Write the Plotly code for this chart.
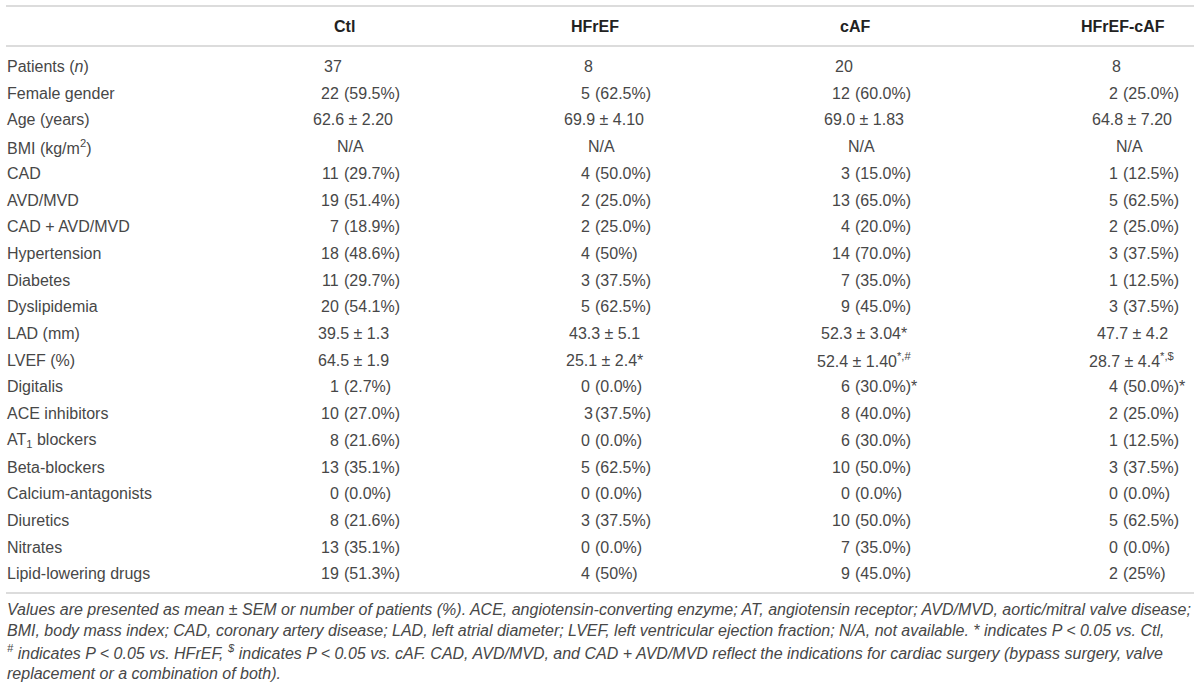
import plotly.graph_objects as go

W, H = 1200, 687

GROUPS = ["Ctl", "HFrEF", "cAF", "HFrEF-cAF"]
ROWS = ["Patients (<i>n</i>)", "Female gender", "Age (years)", "BMI (kg/m<sup>2</sup>)",
        "CAD", "AVD/MVD", "CAD + AVD/MVD", "Hypertension", "Diabetes", "Dyslipidemia",
        "LAD (mm)", "LVEF (%)", "Digitalis", "ACE inhibitors", "AT<sub>1</sub> blockers",
        "Beta-blockers", "Calcium-antagonists", "Diuretics", "Nitrates", "Lipid-lowering drugs"]
CTL = ["37", "22 (59.5%)", "62.6 ± 2.20", "N/A", "11 (29.7%)", "19 (51.4%)", "7 (18.9%)",
       "18 (48.6%)", "11 (29.7%)", "20 (54.1%)", "39.5 ± 1.3", "64.5 ± 1.9", "1 (2.7%)",
       "10 (27.0%)", "8 (21.6%)", "13 (35.1%)", "0 (0.0%)", "8 (21.6%)", "13 (35.1%)",
       "19 (51.3%)"]
HFREF = ["8", "5 (62.5%)", "69.9 ± 4.10", "N/A", "4 (50.0%)", "2 (25.0%)", "2 (25.0%)",
         "4 (50%)", "3 (37.5%)", "5 (62.5%)", "43.3 ± 5.1", "25.1 ± 2.4*", "0 (0.0%)",
         "3(37.5%)", "0 (0.0%)", "5 (62.5%)", "0 (0.0%)", "3 (37.5%)", "0 (0.0%)", "4 (50%)"]
CAF = ["20", "12 (60.0%)", "69.0 ± 1.83", "N/A", "3 (15.0%)", "13 (65.0%)", "4 (20.0%)",
       "14 (70.0%)", "7 (35.0%)", "9 (45.0%)", "52.3 ± 3.04*", "52.4 ± 1.40<sup>*,#</sup>",
       "6 (30.0%)*", "8 (40.0%)", "6 (30.0%)", "10 (50.0%)", "0 (0.0%)", "10 (50.0%)",
       "7 (35.0%)", "9 (45.0%)"]
HFREF_CAF = ["8", "2 (25.0%)", "64.8 ± 7.20", "N/A", "1 (12.5%)", "5 (62.5%)", "2 (25.0%)",
             "3 (37.5%)", "1 (12.5%)", "3 (37.5%)", "47.7 ± 4.2", "28.7 ± 4.4<sup>*,$</sup>",
             "4 (50.0%)*", "2 (25.0%)", "1 (12.5%)", "3 (37.5%)", "0 (0.0%)", "5 (62.5%)",
             "0 (0.0%)", "2 (25%)"]
FOOTNOTE = [
    "Values are presented as mean ± SEM or number of patients (%). ACE, angiotensin-converting enzyme; "
    "AT, angiotensin receptor; AVD/MVD, aortic/mitral valve disease;",
    "BMI, body mass index; CAD, coronary artery disease; LAD, left atrial diameter; LVEF, left ventricular "
    "ejection fraction; N/A, not available. * indicates P < 0.05 vs. Ctl,",
    "<sup>#</sup> indicates P < 0.05 vs. HFrEF, <sup>$</sup> indicates P < 0.05 vs. cAF. CAD, AVD/MVD, "
    "and CAD + AVD/MVD reflect the indications for cardiac surgery (bypass surgery, valve",
    "replacement or a combination of both).",
]

# layout constants (pixels)
ANCHOR = [340, 591, 851, 1119]      # right edge of the count part in each column
ROW0, ROWSTEP = 66.5, 26.7
HEAD_Y = 26
RULES = [6, 46, 593]
FOOT0, FOOTSTEP = 609, 21.4
FONT = "Liberation Sans"
TXT = "#474747"

fig = go.Figure()
ann = []


def cell(x, y, text, anchor, size=16, color=TXT, bold=False):
    ann.append(dict(x=x, y=y, xref="x", yref="y", text=text, showarrow=False,
                    xanchor=anchor, yanchor="middle", borderpad=0,
                    font=dict(family=FONT, size=size, color=color,
                              weight="bold" if bold else "normal")))


for gi, g in enumerate(GROUPS):
    cell(ANCHOR[gi] + 4, HEAD_Y, g, "center", color="#222222", bold=True)

for ri, lab in enumerate(ROWS):
    cell(6, ROW0 + ri * ROWSTEP, lab, "left")

for gi, col in enumerate([CTL, HFREF, CAF, HFREF_CAF]):
    a = ANCHOR[gi]
    for ri, v in enumerate(col):
        y = ROW0 + ri * ROWSTEP
        if "±" in v:
            cell(a + 13, y, v, "center")
        elif v == "N/A":
            cell(a + 10, y, v, "center")
        elif "(" in v:
            n, rest = v.split("(", 1)
            spaced = n.endswith(" ")
            cell(a if spaced else a + 3, y, n.strip(), "right")
            cell(a + 3, y, "(" + rest, "left")
        else:
            cell(a + 3, y, v, "right")

for li, line in enumerate(FOOTNOTE):
    cell(6, FOOT0 + li * FOOTSTEP, "<i>" + line + "</i>", "left", size=16)

shapes = [dict(type="line", xref="x", yref="y", x0=6, x1=1194, y0=r, y1=r,
               line=dict(color="#dcdcdc", width=2)) for r in RULES]

fig.update_layout(
    width=W, height=H, margin=dict(l=0, r=0, t=0, b=0),
    paper_bgcolor="white", plot_bgcolor="white",
    xaxis=dict(range=[0, W], visible=False, fixedrange=True),
    yaxis=dict(range=[H, 0], visible=False, fixedrange=True),
    annotations=ann, shapes=shapes, showlegend=False,
)

fig.write_html("out.html", config={"displayModeBar": False},
               post_script="document.body.style.margin='0px';")
